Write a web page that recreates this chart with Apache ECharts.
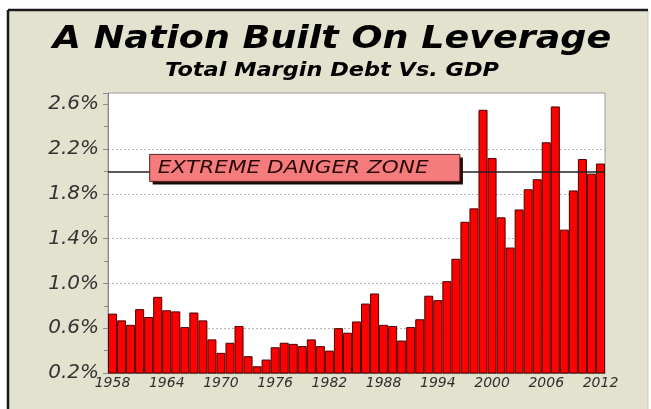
<!DOCTYPE html>
<html>
<head>
<meta charset="utf-8">
<script src="https://cdn.jsdelivr.net/npm/echarts@6/dist/echarts.min.js"></script>
<style>
  html, body { margin: 0; padding: 0; background: #fff; }
  #chart { width: 651px; height: 409px; }
</style>
</head>
<body>
<div id="chart"></div>
<script>
const years = [];
for (let y = 1958; y <= 2012; y++) years.push(String(y));

// margin debt as % of GDP
const debtVsGdp = [
  0.73, 0.67, 0.63, 0.77, 0.70, 0.88, 0.76, 0.75, 0.61, 0.74,
  0.67, 0.50, 0.38, 0.47, 0.62, 0.35, 0.26, 0.32, 0.43, 0.47,
  0.46, 0.44, 0.50, 0.44, 0.40, 0.60, 0.56, 0.66, 0.82, 0.91,
  0.63, 0.62, 0.49, 0.61, 0.68, 0.89, 0.85, 1.02, 1.22, 1.55,
  1.67, 2.55, 2.12, 1.59, 1.32, 1.66, 1.84, 1.93, 2.26, 2.58,
  1.48, 1.83, 2.11, 1.98, 2.07
];
const dangerLevel = 2.0;
const dangerText = 'EXTREME DANGER ZONE';
const yTicks = [0.2, 0.6, 1.0, 1.4, 1.8, 2.2, 2.6];

const font = '"DejaVu Sans", Verdana, sans-serif';
const chart = echarts.init(document.getElementById('chart'));

// dotted grid lines, none at the top tick (2.6%)
const gridColors = yTicks.map(t => t === 2.6 ? 'rgba(0,0,0,0)' : '#b5b5b5');
gridColors.push('rgba(0,0,0,0)');

chart.setOption({
  backgroundColor: '#fff',
  animation: false,
  graphic: {
    elements: [
      { type: 'rect', z: -10, silent: true,
        shape: { x: 8, y: 10, width: 640, height: 420 },
        style: { fill: '#e3e2ce', stroke: '#cfcdb8', lineWidth: 1 } },
      { type: 'line', z: -9, shape: { x1: 8, y1: 10, x2: 648, y2: 10 },
        style: { stroke: '#1a1a1a', lineWidth: 2.5 } },
      { type: 'line', z: -9, shape: { x1: 8, y1: 10, x2: 8, y2: 409 },
        style: { stroke: '#1a1a1a', lineWidth: 2.5 } },
      // the source picture is stretched sideways, hence scaleX on the titles
      { type: 'text', x: 332, y: 40, scaleX: 1.14,
        style: { text: 'A Nation Built On Leverage', x: 0, y: 0,
          font: 'italic bold 32px ' + font, fill: '#000',
          textAlign: 'center', textVerticalAlign: 'middle' } },
      { type: 'text', x: 332, y: 71, scaleX: 1.18,
        style: { text: 'Total Margin Debt Vs. GDP', x: 0, y: 0,
          font: 'italic bold 19px ' + font, fill: '#000',
          textAlign: 'center', textVerticalAlign: 'middle' } }
    ]
  },
  grid: {
    left: 108, right: 46, top: 93, bottom: 36,
    show: true, backgroundColor: '#fff', borderColor: '#9a9a9a', borderWidth: 1
  },
  xAxis: {
    type: 'category',
    data: years,
    axisLine: { lineStyle: { color: '#8a8a8a' } },
    axisTick: { interval: 0, length: 5, lineStyle: { color: '#8a8a8a' } },
    axisLabel: {
      interval: 5, margin: 3, fontSize: 14, fontStyle: 'italic',
      fontFamily: font, color: '#2e2e2e'
    }
  },
  yAxis: {
    type: 'value',
    min: 0.2, max: 2.7, interval: 0.4,
    axisLine: { show: true, lineStyle: { color: '#8a8a8a' } },
    axisTick: { show: true, length: 5, lineStyle: { color: '#8a8a8a' } },
    minorTick: { show: true, splitNumber: 2, length: 4, lineStyle: { color: '#8a8a8a' } },
    splitLine: { lineStyle: { color: gridColors, type: [2, 2] } },
    axisLabel: {
      margin: 9, fontSize: 20, fontStyle: 'italic', fontFamily: font, color: '#333',
      formatter: v => yTicks.some(t => Math.abs(t - v) < 1e-6) ? v.toFixed(1) + '%' : ''
    }
  },
  series: [{
    type: 'bar',
    data: debtVsGdp,
    barCategoryGap: '0%',
    itemStyle: { color: '#ff0000', borderColor: '#4a0000', borderWidth: 1 },
    markLine: {
      silent: true, symbol: 'none', z: 5,
      label: { show: false },
      lineStyle: { color: '#222', width: 1.5, type: 'solid' },
      data: [{ yAxis: dangerLevel }]
    }
  }]
});

// danger zone label box, placed through the axes
const yPx = chart.convertToPixel({ yAxisIndex: 0 }, dangerLevel);
const x0 = chart.convertToPixel({ xAxisIndex: 0 }, '1962') + 1;
const x1 = chart.convertToPixel({ xAxisIndex: 0 }, '1996') + 4;
const boxTop = yPx - 17;
chart.setOption({
  graphic: {
    elements: [
      { type: 'rect', id: 'dzShadow', z: 10,
        shape: { x: x0 + 3, y: boxTop + 3, width: x1 - x0, height: 27 },
        style: { fill: '#1a0a0a' } },
      { type: 'rect', id: 'dzBox', z: 11,
        shape: { x: x0, y: boxTop, width: x1 - x0, height: 27 },
        style: { fill: '#f47c7c', stroke: '#5a2020', lineWidth: 1 } },
      { type: 'text', id: 'dzText', z: 12, x: x0 + 8, y: boxTop + 13.5, scaleX: 1.2,
        style: { text: dangerText, x: 0, y: 0,
          font: 'italic 18px ' + font, fill: '#2a0808',
          textAlign: 'left', textVerticalAlign: 'middle' } }
    ]
  }
});
</script>
</body>
</html>
